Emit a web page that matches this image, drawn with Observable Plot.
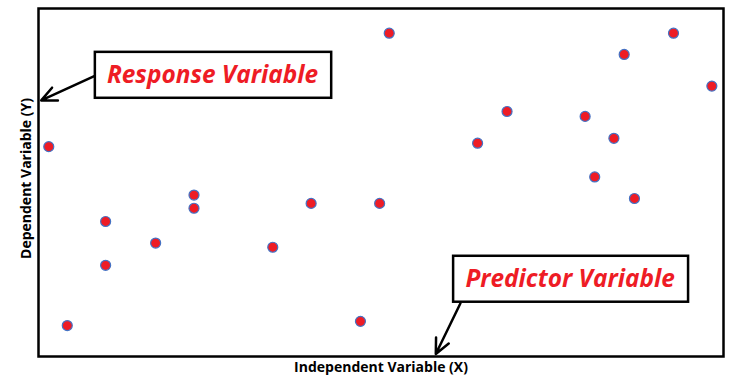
<!DOCTYPE html>
<html><head><meta charset="utf-8">
<script src="https://cdn.jsdelivr.net/npm/d3@7"></script>
<script src="https://cdn.jsdelivr.net/npm/@observablehq/plot@0.6"></script>
<style>body{margin:0;background:#fff}</style>
</head><body><div id="chart"></div>
<script>
// Scatter values (arbitrary units 0-100)
const xValues = [1.5, 4.2, 9.8, 9.8, 17.1, 22.7, 22.7, 34.2, 39.8, 47.0, 49.8, 51.2, 64.1, 68.4, 79.8, 81.2, 84.0, 85.5, 87.0, 92.7, 98.3];
const yValues = [60.3, 8.9, 38.8, 26.2, 32.6, 46.4, 42.6, 31.4, 44.0, 10.1, 44.0, 92.9, 61.3, 70.4, 69.0, 51.6, 62.7, 86.8, 45.4, 92.9, 77.7];

const xLabel = "Independent Variable (X)";
const yLabel = "Dependent Variable (Y)";

// Callouts (anchored in data units)
const noteText = ["Response Variable", "Predictor Variable"];
const noteX = [25.4, 77.6];
const noteY = [80.9, 22.2];
const boxX1 = [8.3, 60.6];
const boxX2 = [42.8, 94.9];
const boxY1 = [74.2, 15.6];
const boxY2 = [87.4, 28.8];
const arrowX1 = [8.3, 61.6];
const arrowY1 = [80.7, 15.3];
const arrowX2 = [0.4, 58.0];
const arrowY2 = [73.6, 0.7];

const points = xValues.map((x, i) => ({x, y: yValues[i]}));
const notes = noteText.map((t, i) => ({
  t, x: noteX[i], y: noteY[i],
  bx1: boxX1[i], bx2: boxX2[i], by1: boxY1[i], by2: boxY2[i],
  ax1: arrowX1[i], ay1: arrowY1[i], ax2: arrowX2[i], ay2: arrowY2[i]
}));

const chart = Plot.plot({
  width: 737,
  height: 381,
  marginLeft: 38,
  marginRight: 14,
  marginTop: 8,
  marginBottom: 25,
  x: {domain: [0, 100], axis: null},
  y: {domain: [0, 100], axis: null},
  style: {background: "#fff"},
  marks: [
    Plot.frame({stroke: "#000", strokeWidth: 2.5}),
    Plot.dot(points, {x: "x", y: "y", r: 5, fill: "#ee1c25", stroke: "#4472c4", strokeWidth: 1.2}),
    Plot.arrow(notes, {x1: "ax1", y1: "ay1", x2: "ax2", y2: "ay2", stroke: "#000", strokeWidth: 2.5, headLength: 10, headAngle: 50}),
    Plot.rect(notes, {x1: "bx1", x2: "bx2", y1: "by1", y2: "by2", fill: "#fff", stroke: "#000", strokeWidth: 2.5}),
    Plot.text(notes, {x: "x", y: "y", text: "t", fill: "#ee1c25", fontFamily: "Open Sans", fontWeight: "bold", fontStyle: "italic", fontSize: 24.4}),
    Plot.text([xLabel], {frameAnchor: "bottom", dy: 15, text: d => d, fontFamily: "Open Sans", fontWeight: "bold", fontSize: 14, fill: "#000"}),
    Plot.text([yLabel], {frameAnchor: "left", textAnchor: "middle", dx: -12, dy: -4, rotate: -90, text: d => d, fontFamily: "Open Sans", fontWeight: "bold", fontSize: 14, fill: "#000"})
  ]
});
document.getElementById("chart").append(chart);
</script>
</body></html>
